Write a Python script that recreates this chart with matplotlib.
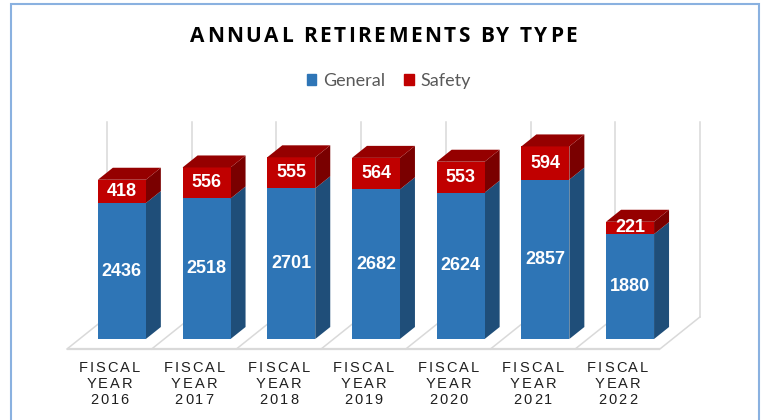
import matplotlib
matplotlib.use("Agg")
import matplotlib.pyplot as plt
from matplotlib import transforms, font_manager
from matplotlib.ft2font import FT2Font
from matplotlib.patches import Polygon, Rectangle, Patch

# ---- data -------------------------------------------------------------
years = ["2016", "2017", "2018", "2019", "2020", "2021", "2022"]
general = [2436, 2518, 2701, 2682, 2624, 2857, 1880]
safety = [418, 556, 555, 564, 553, 594, 221]
series_names = ["General", "Safety"]
chart_title = "ANNUAL RETIREMENTS BY TYPE"
value_axis_max = 3500

# ---- colours ----------------------------------------------------------
BLUE_FRONT, BLUE_SIDE = "#2E75B6", "#1F4E79"
RED_FRONT, RED_SIDE, RED_TOP = "#C00000", "#7A0000", "#950000"
GRID = "#D9D9D9"

W, H, DPI = 767, 420, 100
fig = plt.figure(figsize=(W / DPI, H / DPI), dpi=DPI)

# ---- oblique 3-D projection ------------------------------------------
px_per_cat = 84.7          # horizontal pixels per category
px_per_val = 0.0558        # vertical pixels per unit of value
depth_dx, depth_dy = 40, 32  # pixel shift of the floor's back edge
kx = depth_dx / px_per_cat
ky = depth_dy / px_per_val

xlim = (0, 7.6)
ylim = (0, 4200)
ax = fig.add_axes([67 / W, (H - 349) / H,
                   (xlim[1] - xlim[0]) * px_per_cat / W,
                   (ylim[1] - ylim[0]) * px_per_val / H])
ax.set_xlim(*xlim)
ax.set_ylim(*ylim)
ax.axis("off")


def P(x, v, d):
    """Project (category x, value v, depth d in 0..1) to axes data coords."""
    return (x + d * kx, v + d * ky)


def tracked(x, y, s, transform, size, track, family, weight="normal",
            color="black", ha="center", target=None, **kw):
    """Draw letter-spaced text, one glyph at a time."""
    fp = font_manager.FontProperties(family=family, weight=weight, size=size)
    ft = FT2Font(font_manager.findfont(fp))
    ft.set_size(size, 72)
    adv = [ft.load_char(ord(c)).linearHoriAdvance / 65536 for c in s]
    total = sum(adv) + track * (len(s) - 1)
    pos = -total / 2 if ha == "center" else 0.0
    tgt = target if target is not None else ax
    for c, a in zip(s, adv):
        tr = transforms.offset_copy(transform, fig=fig, x=pos, y=0, units="points")
        tgt.text(x, y, c, transform=tr, ha="left", va="baseline",
                 fontproperties=fp, color=color, clip_on=False, **kw)
        pos += a + track


# ---- floor and back-wall gridlines -----------------------------------
n = len(years)
ax.plot(*zip(P(0, 0, 0), P(n, 0, 0)), color=GRID, lw=1.6, zorder=1,
        solid_capstyle="butt", clip_on=False)
for i in range(n + 1):
    ax.plot(*zip(P(i, 0, 0), P(i, 0, 1)), color=GRID, lw=1.1, zorder=1,
            clip_on=False)
    ax.plot(*zip(P(i, 0, 1), P(i, value_axis_max, 1)), color=GRID, lw=1.1,
            zorder=1, clip_on=False)

# ---- stacked 3-D bars -------------------------------------------------
bw = 48 / px_per_cat
d0, d1 = 10 / 32, 22 / 32


def box(x0, x1, v0, v1, front, side, top, z):
    fr = Polygon([P(x0, v0, d0), P(x1, v0, d0), P(x1, v1, d0), P(x0, v1, d0)],
                 closed=True, fc=front, ec="none", zorder=z + 0.1, clip_on=False)
    sd = Polygon([P(x1, v0, d0), P(x1, v0, d1), P(x1, v1, d1), P(x1, v1, d0)],
                 closed=True, fc=side, ec="none", zorder=z, clip_on=False)
    ax.add_patch(sd)
    ax.add_patch(fr)
    if top is not None:
        tp = Polygon([P(x0, v1, d0), P(x1, v1, d0), P(x1, v1, d1), P(x0, v1, d1)],
                     closed=True, fc=top, ec="none", zorder=z + 0.1, clip_on=False)
        ax.add_patch(tp)
    return fr


label_kw = dict(color="white", fontsize=13, fontweight="bold",
                family="Liberation Sans", ha="center", va="center", zorder=20)

for i, (g, s) in enumerate(zip(general, safety)):
    x0 = i + 0.5 - bw / 2
    x1 = i + 0.5 + bw / 2
    box(x0, x1, 0, g, BLUE_FRONT, BLUE_SIDE, None, 2 + i)
    red_front = box(x0, x1, g, g + s, RED_FRONT, RED_SIDE, RED_TOP, 2.5 + i)
    ax.text(*P(i + 0.5, g / 2, d0), f"{g}", **label_kw)
    t = ax.text(*P(i + 0.5, g + s / 2, d0), f"{s}", **label_kw)
    t.set_clip_path(red_front)

# ---- category labels --------------------------------------------------
for i, yr in enumerate(years):
    bx, by = P(i + 0.5, 0, 0)
    for k, line in enumerate(["FISCAL", "YEAR", yr]):
        base = transforms.offset_copy(ax.transData, fig=fig, x=0,
                                      y=-(23 + 16 * k) * 72 / DPI, units="points")
        tracked(bx, by, line, base, 10.5, 1.5, "Liberation Sans",
                color="#1F1F1F")

# ---- title and legend -------------------------------------------------
tracked(383.5 / W, 1 - 42 / H, chart_title, fig.transFigure, 15, 1.8,
        "Open Sans", weight="bold", color="black", target=fig)

handles = [Patch(color=BLUE_FRONT), Patch(color=RED_FRONT)]
fig.legend(handles, series_names, loc="center",
           bbox_to_anchor=(388.5 / W, 1 - 81 / H),
           ncol=2, frameon=False, handlelength=0.55, handleheight=0.55,
           handletextpad=0.35, columnspacing=1.05, borderpad=0, borderaxespad=0,
           prop=font_manager.FontProperties(family="Lato", size=13),
           labelcolor="#595959")

# ---- chart border -----------------------------------------------------
fig.patches.append(Rectangle((11 / W, -0.05), (759 - 11) / W, 1.05 - 4 / H,
                             transform=fig.transFigure, fill=False,
                             ec="#8AB1E0", lw=1.5))

fig.savefig("out.png", dpi=DPI)
